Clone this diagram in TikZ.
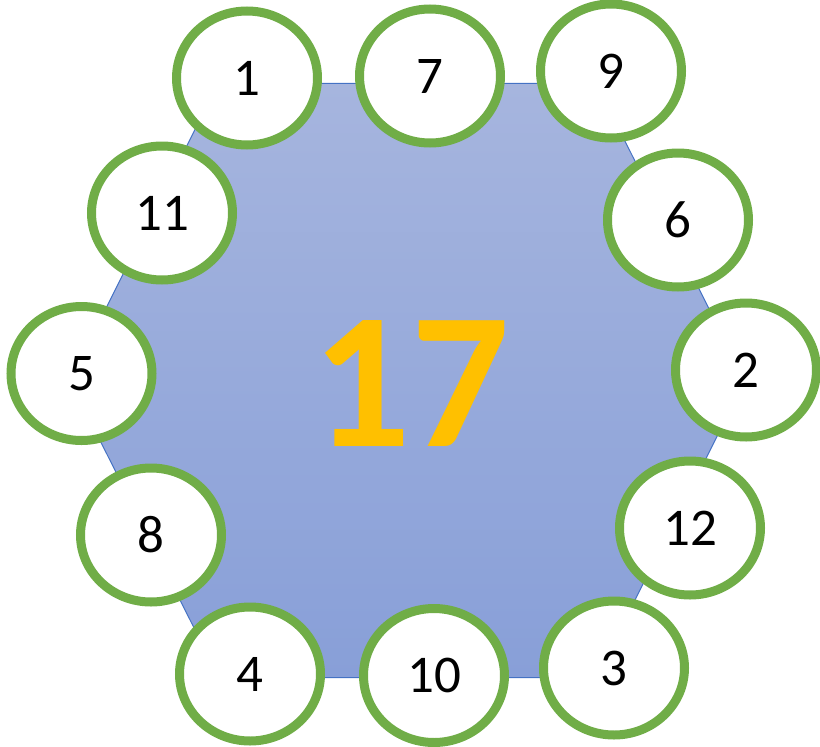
\documentclass[tikz,border=0pt]{standalone}
\usepackage{fontspec}
\setmainfont{Carlito}
\usetikzlibrary{shapes.geometric}
\definecolor{ringgreen}{HTML}{70AD47}
\definecolor{hextop}{HTML}{A6B5DE}
\definecolor{hexbot}{HTML}{889FD8}
\definecolor{hexline}{HTML}{4472C4}
\definecolor{bigorange}{HTML}{FFC000}
\tikzset{
  ring/.style={ellipse, draw=ringgreen, line width=9pt, fill=white,
    minimum width=141pt, minimum height=134pt, inner sep=0pt,
    font=\fontsize{53}{53}\selectfont, text=black},
  hexshape/.style={draw=hexline, line width=1pt, top color=hextop, bottom color=hexbot},
  bignum/.style={font=\fontsize{194}{194}\selectfont\bfseries, text=bigorange, inner sep=0pt}
}
\begin{document}
\begin{tikzpicture}[x=1pt,y=-1pt]
\useasboundingbox (0,0) rectangle (820,747);
\coordinate (h1) at (218,83.3);
\coordinate (h2) at (596,83.3);
\coordinate (h3) at (745,380.6);
\coordinate (h4) at (596,677.7);
\coordinate (h5) at (219,677.7);
\coordinate (h6) at (70,380.6);
\path[hexshape] (h1) -- (h2) -- (h3) -- (h4) -- (h5) -- (h6) -- cycle;
\node[bignum] (center) at (411,384) {17};
\node[ring] (n1) at (247,78) {1};
\node[ring] (n7) at (430,76) {7};
\node[ring] (n9) at (611,71) {9};
\node[ring] (n11) at (162,213) {11};
\node[ring] (n6) at (678,220) {6};
\node[ring] (n5) at (81.5,373.5) {5};
\node[ring] (n2) at (746,370) {2};
\node[ring] (n8) at (151,535) {8};
\node[ring] (n12) at (690,528) {12};
\node[ring] (n4) at (250,674) {4};
\node[ring] (n10) at (434,675.5) {10};
\node[ring] (n3) at (614,668) {3};
\end{tikzpicture}
\end{document}
